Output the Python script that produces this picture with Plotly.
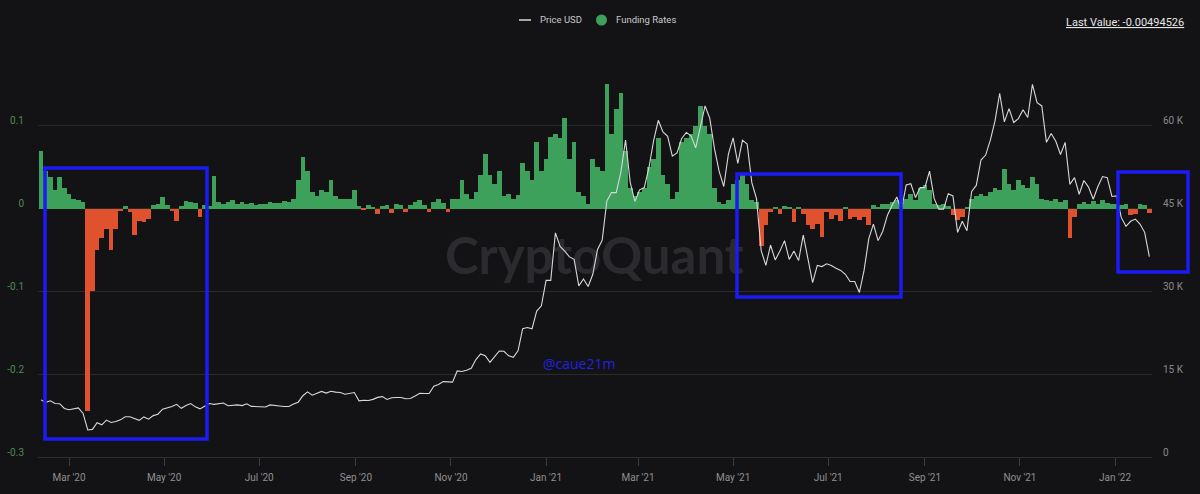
import pandas as pd
import plotly.graph_objects as go

# ---------------- data (3-day samples starting 2020-02-12) ----------------
price_2020 = [
    10350, 9900, 10180, 9700, 9650, 8800,                                   # Feb
    8550, 8760, 8900, 7900, 4900, 5000, 6200, 5830, 6680, 6250, 6420,       # Mar
    6730, 7300, 7300, 6910, 6640, 7260, 6860, 7500, 7750, 8660,             # Apr
    8900, 9160, 9550, 8820, 9320, 9680, 9080, 8720, 9200, 9700,             # May
    9530, 9620, 9770, 9290, 9380, 9450, 9310, 9630, 9170, 9180,             # Jun
    9090, 9070, 9440, 9280, 9250, 9150, 9160, 9600, 9930, 11100,            # Jul
    11800, 11200, 11600, 11880, 11580, 11910, 11750, 11680, 11370, 11540, 11680,  # Aug
    10170, 10280, 10240, 10440, 10800, 10940, 10420, 10740, 10780, 10780,   # Sep
    10550, 10600, 11060, 11560, 11510, 11500, 12820, 13120, 13650, 13550,   # Oct
    13560, 15590, 15480, 15700, 16070, 17650, 18680, 18360, 17150, 18180,  # Nov
    19200, 19150, 18320, 18060, 19250, 23240, 23470, 23240, 26440, 27380,  # Dec
]
price_2021 = [
    32000, 32000, 40600, 38150, 37300, 36250, 35800, 31000, 32250, 30900, 33100,  # Jan
    37600, 39250, 46400, 47900, 47900, 51600, 57400, 49700, 46300,                # Feb
    48400, 48800, 52400, 57300, 61000, 58900, 58100, 54500, 55100, 57700,         # Mar
    58800, 58200, 56000, 59800, 63600, 61400, 55900, 51800, 49000, 54900,         # Apr
    57800, 53200, 57400, 56700, 49700, 46800, 37400, 34700, 38400, 35700, 37300,  # May
    39200, 35800, 37300, 35600, 40200, 35800, 31600, 34700, 34500, 35000,         # Jun
    34700, 34200, 33800, 33100, 31800, 31800, 29800, 33800, 39500, 42200,         # Jul
    39200, 40900, 43800, 45600, 47100, 44700, 49300, 49500, 47000, 48800,         # Aug
    48800, 51800, 46800, 44900, 44900, 47700, 47300, 40700, 42700, 41000,         # Sep
    48100, 49200, 53800, 54700, 57400, 60900, 65900, 60700, 63100, 60600, 61300,  # Oct
    62900, 61500, 67500, 64200, 63600, 57000, 58600, 57200, 54800, 57000,         # Nov
    49400, 50600, 47600, 50100, 48900, 46700, 49000, 50800, 50600, 47200,         # Dec
]
price_2022 = [47300, 43400, 41800, 42700, 43100, 42200, 40700, 36300]           # Jan

funding_2020 = [
    0.07, 0.045, 0.038, 0.022, 0.038, 0.025,                                          # Feb
    0.018, 0.012, 0.01, 0.008, -0.245, -0.1, -0.05, -0.035, -0.025, -0.05, -0.025,   # Mar
    -0.003, 0.003, -0.004, -0.032, -0.015, -0.016, -0.012, 0.004, 0.006, 0.014,      # Apr
    0.004, -0.003, -0.015, 0.003, 0.009, 0.008, 0.007, -0.01, 0.004, 0.003,          # May
    0.039, 0.008, 0.006, 0.008, 0.01, 0.005, 0.008, 0.006, 0.007, 0.004,             # Jun
    0.005, 0.006, 0.008, 0.007, 0.007, 0.009, 0.008, 0.012, 0.035, 0.062,            # Jul
    0.045, 0.02, 0.015, 0.023, 0.02, 0.035, 0.015, 0.012, 0.012, 0.012, 0.022,       # Aug
    0.003, -0.002, 0.004, 0.002, -0.007, 0.003, 0.004, -0.005, 0.005, 0.004,         # Sep
    -0.004, 0.004, 0.008, 0.01, 0.004, -0.004, 0.008, 0.011, 0.007, -0.004,          # Oct
    0.012, 0.012, 0.035, 0.018, 0.012, 0.02, 0.04, 0.066, 0.04, 0.03,                # Nov
    0.045, 0.015, 0.018, 0.012, 0.016, 0.055, 0.045, 0.035, 0.08, 0.045,             # Dec
]
funding_2021 = [
    0.06, 0.087, 0.09, 0.085, 0.11, 0.06, 0.08, 0.02, 0.015, 0.005, 0.06,            # Jan
    0.05, 0.045, 0.15, 0.09, 0.12, 0.14, 0.07, 0.025, 0.015,                         # Feb
    0.02, 0.025, 0.05, 0.06, 0.085, 0.04, 0.03, 0.012, 0.02, 0.08,                   # Mar
    0.085, 0.09, 0.1, 0.124, 0.1, 0.09, 0.025, 0.008, 0.005, 0.01,                   # Apr
    0.03, 0.035, 0.04, 0.03, 0.01, 0.008, -0.045, -0.02, -0.004, 0.002, -0.006,      # May
    0.003, 0.002, -0.016, 0.002, -0.006, -0.02, -0.025, -0.018, -0.034, -0.004,      # Jun
    -0.012, -0.008, -0.015, 0.002, -0.012, -0.01, -0.014, -0.01, -0.02, 0.004,       # Jul
    0.002, 0.005, 0.006, 0.008, 0.01, 0.008, 0.012, 0.018, 0.01, 0.025,              # Aug
    0.028, 0.022, 0.006, 0.004, 0.005, 0.003, -0.008, -0.014, -0.01, 0.002,          # Sep
    0.012, 0.015, 0.018, 0.015, 0.02, 0.025, 0.022, 0.048, 0.03, 0.022, 0.035,       # Oct
    0.028, 0.025, 0.038, 0.03, 0.012, 0.01, 0.009, 0.011, 0.008, 0.01,               # Nov
    -0.036, -0.01, 0.006, 0.008, 0.005, 0.009, 0.006, 0.01, 0.007, 0.005,            # Dec
]
funding_2022 = [0.006, 0.004, 0.005, -0.008, -0.006, 0.005, 0.004, -0.00494526]     # Jan

left_tick_vals = [-0.3, -0.2, -0.1, 0, 0.1, 0.2]
left_tick_text = ["-0.3", "-0.2", "-0.1", "0", "0.1", ""]
right_tick_vals = [0, 15000, 30000, 45000, 60000, 75000]
right_tick_text = ["0", "15 K", "30 K", "45 K", "60 K", ""]
legend_names = ["Price USD", "Funding Rates"]

price = price_2020 + price_2021 + price_2022
funding = funding_2020 + funding_2021 + funding_2022
n = min(len(price), len(funding))
dates = pd.date_range("2020-02-12", periods=n, freq="3D")
price = price[:n]
funding = funding[:n]

GREEN = "#3da15b"
RED = "#e0522e"
BG = "#131316"
BLUE = "#1b1bf5"
LINE = "#d8d8d8"

bar_colors = [GREEN if v >= 0 else RED for v in funding]

fig = go.Figure()
fig.add_trace(go.Scatter(
    x=dates, y=price, yaxis="y2", mode="lines", name=legend_names[0],
    line=dict(color=LINE, width=1.1), hoverinfo="skip", showlegend=False))
fig.add_trace(go.Bar(
    x=dates, y=funding, marker=dict(color=bar_colors, line=dict(width=0)),
    width=3 * 86400000, showlegend=False, name=legend_names[1]))
fig.add_trace(go.Scatter(
    x=["2021-02-01"], y=[-0.063], mode="text", text=["CryptoQuant"],
    textposition="middle center",
    textfont=dict(size=51, color="#2b2b2f", family="Lato", weight="bold"),
    showlegend=False, hoverinfo="skip"))

def px_x(p):
    return (p - 38) / 1114.0

def px_y(p):
    return (457 - p) / 414.0

rects = [(45, 168, 207, 439), (737, 174, 901, 297), (1118, 172, 1188, 272)]
shapes = []
for x0, y0, x1, y1 in rects:
    shapes.append(dict(type="rect", xref="paper", yref="paper",
                       x0=px_x(x0), x1=px_x(x1), y0=px_y(y1), y1=px_y(y0),
                       line=dict(color=BLUE, width=3.5), layer="above"))

# hand-drawn legend (keeps plot margins fixed)
shapes.append(dict(type="line", xref="paper", yref="paper",
                   x0=px_x(519), x1=px_x(531), y0=px_y(20), y1=px_y(20),
                   line=dict(color=LINE, width=1.5)))
shapes.append(dict(type="circle", xref="paper", yref="paper",
                   x0=px_x(596), x1=px_x(607), y0=px_y(25.5), y1=px_y(14.5),
                   fillcolor=GREEN, line=dict(width=0)))

fig.update_layout(
    width=1200, height=494, autosize=False,
    paper_bgcolor=BG, plot_bgcolor=BG,
    margin=dict(l=38, r=48, t=43, b=37),
    font=dict(family="Roboto", color="#c8c8c8"),
    bargap=0,
    shapes=shapes,
    showlegend=False,
    xaxis=dict(type="date", range=["2020-02-10 02:00", "2022-01-24 17:00"],
               tick0="2020-03-01", dtick="M2", tickformat="%b '%y",
               tickfont=dict(size=10, color="#8f8f8f"), automargin=False,
               ticks="outside", ticklen=8, tickcolor="#3a3a3e", ticklabelstandoff=3,
               showgrid=False, showline=True, linecolor="#2e2e32", zeroline=False),
    yaxis=dict(range=[-0.3, 0.2], tickmode="array", tickvals=left_tick_vals, ticktext=left_tick_text,
               tickfont=dict(size=10, color="#4f8a52"), gridcolor="#2a2a2e", gridwidth=1,
               automargin=False,
               zeroline=False, showline=False, ticklabelshift=-5, ticklabelstandoff=13),
    yaxis2=dict(range=[0, 75000], overlaying="y", side="right", tickmode="array",
                tickvals=right_tick_vals, ticktext=right_tick_text, automargin=False,
                tickfont=dict(size=10, color="#8a8a8a"), showgrid=False, zeroline=False,
                showline=False, ticklabelshift=-5, ticklabelstandoff=10),
    annotations=[
        dict(xref="paper", yref="paper", x=px_x(538), y=px_y(20), xanchor="left", yanchor="middle",
             text=legend_names[0], showarrow=False, font=dict(size=9.5, color="#c8c8c8")),
        dict(xref="paper", yref="paper", x=px_x(614), y=px_y(20), xanchor="left", yanchor="middle",
             text=legend_names[1], showarrow=False, font=dict(size=9.5, color="#c8c8c8")),
        dict(xref="paper", yref="paper", x=px_x(1186), y=px_y(22), xanchor="right", yanchor="middle",
             text="<u>Last Value: -0.00494526</u>", showarrow=False,
             font=dict(size=11, color="#e6e6e6")),
        dict(xref="paper", yref="paper", x=px_x(579), y=px_y(363), xanchor="center", yanchor="middle",
             text="@caue21m", showarrow=False,
             font=dict(size=14, color="#2222e0", family="Open Sans")),
    ],
)

fig.write_html("out.html", config={"displayModeBar": False},
               post_script="document.body.style.margin='0';document.body.style.background='#131316';")
